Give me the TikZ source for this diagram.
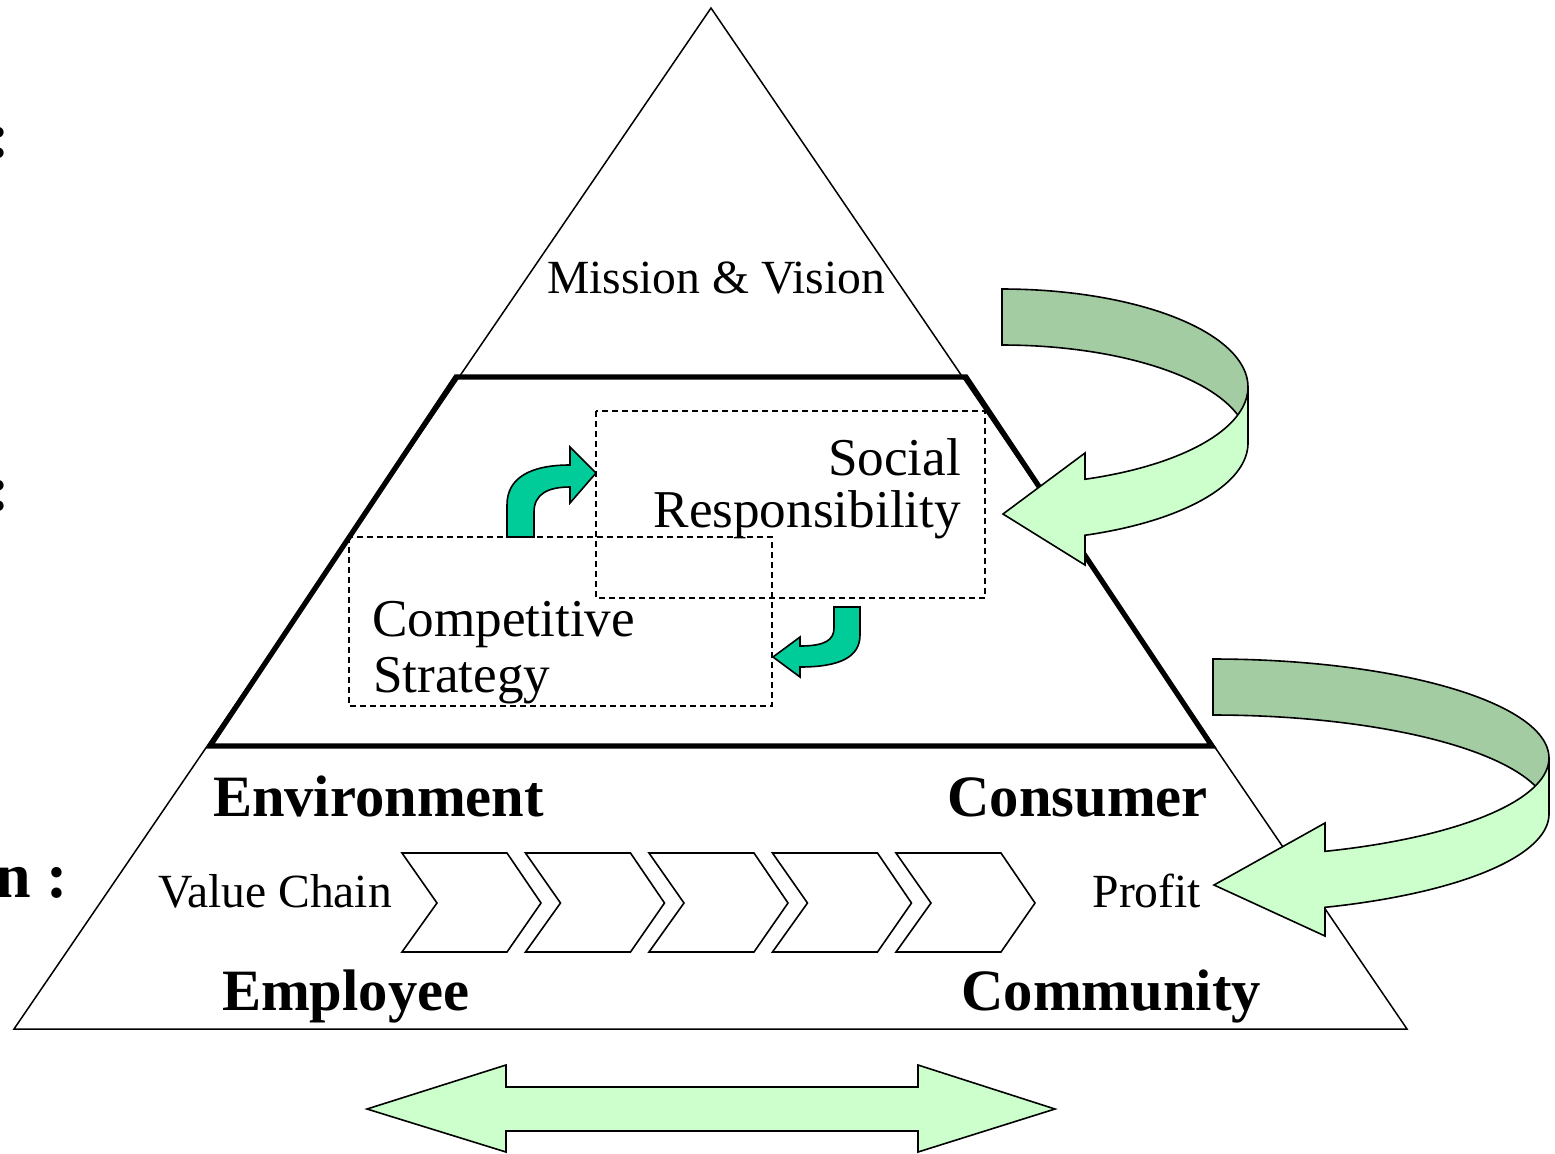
\documentclass[tikz,border=0pt]{standalone}
\usepackage{fontspec}
\setmainfont{Liberation Serif}
\definecolor{ribdark}{HTML}{A3CCA3}
\definecolor{riblight}{HTML}{CCFFCC}
\definecolor{tealarrow}{HTML}{00CC99}
\begin{document}
\begin{tikzpicture}[x=0.5pt,y=-0.5pt,
  thinline/.style={line width=0.75pt, line join=miter},
  thickline/.style={line width=2.6pt, line join=miter},
  dashbox/.style={line width=0.7pt, dash pattern=on 3pt off 2pt},
  shapeline/.style={line width=0.8pt, line join=miter},
  plain/.style={inner sep=0pt, outer sep=0pt, font=\fontsize{23.8pt}{26pt}\selectfont},
  bigtext/.style={inner sep=0pt, outer sep=0pt, font=\fontsize{26.6pt}{30pt}\selectfont},
  boldtext/.style={inner sep=0pt, outer sep=0pt, font=\fontsize{29.3pt}{33pt}\selectfont\bfseries},
  sidetext/.style={inner sep=0pt, outer sep=0pt, font=\fontsize{32pt}{36pt}\selectfont\bfseries},
  chevron/.style={shapeline, fill=white}
]
\useasboundingbox (0,0) rectangle (1555,1153);

% outer pyramid
\draw[thinline] (711,8) -- (1407,1029) -- (14,1029) -- cycle;
% thick middle band
\draw[thickline] (456,377) -- (966,377) -- (1212,746) -- (210,746) -- cycle;

% dashed boxes
\draw[dashbox] (596,411) rectangle (985,598);
\draw[dashbox] (349,537) rectangle (772,706);

% texts
\node[plain, anchor=base west] (mission) at (547,293) {Mission \& Vision};
\node[bigtext, anchor=base east] (social) at (961,475) {Social};
\node[bigtext, anchor=base east] (resp) at (961,527) {Responsibility};
\node[bigtext, anchor=base west] (compet) at (372,636) {Competitive};
\node[bigtext, anchor=base west] (strat) at (373,692) {Strategy};
\node[boldtext, anchor=base west] (env) at (213,816) {Environment};
\node[boldtext, anchor=base east] (cons) at (1208,816) {Consumer};
\node[boldtext, anchor=base west] (emp) at (222,1010) {Employee};
\node[boldtext, anchor=base east] (comm) at (1261,1010) {Community};
\node[plain, anchor=base west] (vchain) at (158,907) {Value Chain};
\node[plain, anchor=base east] (profit) at (1201,907) {Profit};

% cut-off side labels (cut off in the original as well)
\node[sidetext, anchor=base east] (side1) at (10,157) {:};
\node[sidetext, anchor=base east] (side2) at (10,510) {:};
\node[sidetext, anchor=base east] (side3) at (68,897) {n :};

% chevrons
\foreach \i in {0,...,4}{
  \pgfmathsetmacro{\xo}{402+123.5*\i}
  \draw[chevron] (\xo,853) -- ({\xo+105},853) -- ({\xo+139},903) -- ({\xo+105},952)
     -- (\xo,952) -- ({\xo+35},903) -- cycle;
}

% small teal arrows
\draw[shapeline, fill=tealarrow] (507,537) -- (507,505)
  .. controls (507,478) and (530,465) .. (570,465) -- (570,447) -- (596,473)
  -- (570,503) -- (570,487) .. controls (548,487) and (534,494) .. (534,512)
  -- (534,537) -- cycle;
\draw[shapeline, fill=tealarrow] (834,607) -- (860,607) -- (860,635)
  .. controls (860,657) and (840,667) .. (800,667) -- (800,677) -- (773,657)
  -- (800,637) -- (800,646) .. controls (825,646) and (834,640) .. (834,628) -- cycle;

% upper ribbon arrow
\draw[shapeline, fill=ribdark]
  plot[domain=90:0, samples=60, variable=\t] ({1002+246*cos(\t)},{387-98*sin(\t)})
  -- plot[domain=0:90, samples=60, variable=\t] ({1002+246*cos(\t)},{387-98*sin(\t)+56})
  -- cycle;
\draw[shapeline, fill=riblight]
  plot[domain=0:-70.28, samples=60, variable=\t] ({1002+246*cos(\t)},{387-98*sin(\t)})
  -- (1085,453) -- (1003,514) -- (1085,565)
  -- plot[domain=-70.28:0, samples=60, variable=\t] ({1002+246*cos(\t)},{387-98*sin(\t)+56})
  -- cycle;

% lower ribbon arrow
\draw[shapeline, fill=ribdark]
  plot[domain=90:0, samples=60, variable=\t] ({1213+336*cos(\t)},{758-99*sin(\t)})
  -- plot[domain=0:90, samples=60, variable=\t] ({1213+336*cos(\t)},{758-99*sin(\t)+56})
  -- cycle;
\draw[shapeline, fill=riblight]
  plot[domain=0:-70.53, samples=60, variable=\t] ({1213+336*cos(\t)},{758-99*sin(\t)})
  -- (1325,823) -- (1214,885) -- (1325,936)
  -- plot[domain=-70.53:0, samples=60, variable=\t] ({1213+336*cos(\t)},{758-99*sin(\t)+56})
  -- cycle;

% bottom double arrow
\draw[shapeline, fill=riblight] (367,1109) -- (506,1065) -- (506,1087) -- (918,1087)
  -- (918,1065) -- (1055,1109) -- (918,1152) -- (918,1131) -- (506,1131)
  -- (506,1152) -- cycle;
\end{tikzpicture}
\end{document}
